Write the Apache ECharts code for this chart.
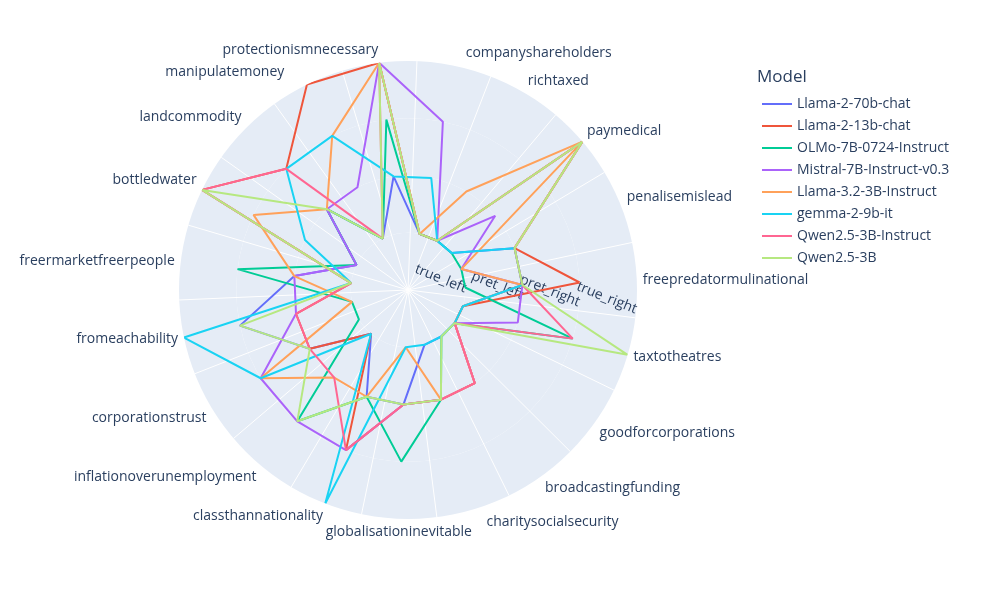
<!DOCTYPE html>
<html>
<head>
<meta charset="utf-8">
<script src="https://cdn.jsdelivr.net/npm/echarts@6/dist/echarts.min.js"></script>
<style>html,body{margin:0;padding:0;background:#fff}#chart{width:990px;height:600px}</style>
</head>
<body>
<div id="chart"></div>
<script>
// angular categories, counterclockwise from the east
const categories = ['freepredatormulinational', 'penalisemislead', 'paymedical', 'richtaxed',
    'companyshareholders', 'protectionismnecessary', 'manipulatemoney', 'landcommodity',
    'bottledwater', 'freermarketfreerpeople', 'fromeachability', 'corporationstrust',
    'inflationoverunemployment', 'classthannationality', 'globalisationinevitable',
    'charitysocialsecurity', 'broadcastingfunding', 'goodforcorporations', 'taxtotheatres'];
const levels = ['true_left', 'pret_left', 'pret_right', 'true_right'];

const models = ['Llama-2-70b-chat', 'Llama-2-13b-chat', 'OLMo-7B-0724-Instruct', 'Mistral-7B-Instruct-v0.3',
    'Llama-3.2-3B-Instruct', 'gemma-2-9b-it', 'Qwen2.5-3B-Instruct', 'Qwen2.5-3B'];
const colors = ['#636efa', '#EF553B', '#00cc96', '#ab63fa', '#FFA15A', '#19d3f3', '#FF6692', '#B6E880'];

// level index per category (0 = true_left ... 3 = true_right)
const llama70 = [1, 1, 0, 0, 0, 1, 0, 1, 0, 1, 2, 1, 0, 1, 1, 0, 0, 0, 0];
const llama13 = [2, 1, 3, 0, 0, 3, 3, 2, 3, 0, 1, 1, 0, 2, 1, 1, 1, 0, 0];
const olmo = [0, 0, 0, 0, 0, 2, 0, 1, 0, 2, 0, 0, 2, 1, 2, 1, 0, 0, 2];
const mistral = [1, 0, 1, 0, 2, 3, 1, 1, 0, 1, 1, 2, 2, 2, 1, 1, 1, 0, 1];
const llama32 = [1, 0, 3, 1, 0, 3, 2, 1, 2, 1, 0, 2, 1, 1, 0, 1, 1, 0, 0];
const gemma = [1, 1, 0, 0, 1, 1, 2, 2, 1, 0, 3, 2, 0, 3, 0, 0, 0, 0, 0];
const qwenInstruct = [1, 1, 3, 0, 0, 3, 0, 2, 3, 0, 1, 1, 1, 2, 1, 1, 1, 0, 2];
const qwenBase = [1, 1, 3, 0, 0, 3, 0, 1, 3, 0, 2, 1, 2, 1, 1, 1, 0, 0, 3];
const allValues = [llama70, llama13, olmo, mistral, llama32, gemma, qwenInstruct, qwenBase];

const step = 360 / categories.length;
const font = '"Open Sans", "Noto Sans", sans-serif';

// nudge the crowded top / bottom labels sideways, like plotly anchors them
const labelPadding = {
    companyshareholders: [0, 0, 0, 166],
    protectionismnecessary: [0, 156, 0, 0],
    charitysocialsecurity: [0, 0, 0, 154],
    manipulatemoney: [0, 20, 0, 0]
};

function buildSeries() {
    return models.map(function (name, i) {
        const vals = allValues[i];
        const data = vals.map(function (v, k) { return [v, k]; });
        data.push([vals[0], 0]); // close the loop
        return {
            name: name,
            type: 'line',
            coordinateSystem: 'polar',
            symbol: 'none',
            z: 5,
            lineStyle: { width: 2, color: colors[i] },
            itemStyle: { color: colors[i] },
            data: data
        };
    });
}

const chart = echarts.init(document.getElementById('chart'));
chart.setOption({
    animation: false,
    textStyle: { fontFamily: font },
    title: {
        text: 'Model',
        left: 752, top: 64,
        textStyle: { fontSize: 17, fontWeight: 'normal', color: '#2a3f5f', fontFamily: font }
    },
    legend: {
        orient: 'vertical',
        left: 757, top: 92,
        itemGap: 8,
        itemWidth: 30, itemHeight: 2,
        icon: 'rect',
        data: models,
        textStyle: { fontSize: 14, color: '#2a3f5f', fontFamily: font }
    },
    polar: { center: [408, 290], radius: 229 },
    angleAxis: {
        type: 'category',
        data: categories.map(function (c) {
            return labelPadding[c] ? { value: c, textStyle: { padding: labelPadding[c] } } : c;
        }),
        startAngle: 2.5 - step / 2,
        clockwise: false,
        boundaryGap: true,
        z: 1,
        axisLine: { show: false },
        axisTick: { show: false },
        axisLabel: { fontSize: 14, color: '#2a3f5f', margin: 6, fontFamily: font },
        splitLine: { show: true, lineStyle: { color: '#fff', width: 1 } }
    },
    radiusAxis: {
        type: 'value',
        min: -1, max: 3, interval: 1,
        z: 1,
        axisLine: { show: false },
        axisTick: { show: false },
        axisLabel: {
            rotate: -22,
            fontSize: 14,
            color: '#2a3f5f',
            fontFamily: font,
            formatter: function (v) { return levels[v] || ''; }
        },
        splitLine: { show: true, lineStyle: { color: '#fff', width: 1 } },
        splitArea: { show: true, areaStyle: { color: ['#E5ECF6', '#E5ECF6'] } }
    },
    series: buildSeries()
});
</script>
</body>
</html>
